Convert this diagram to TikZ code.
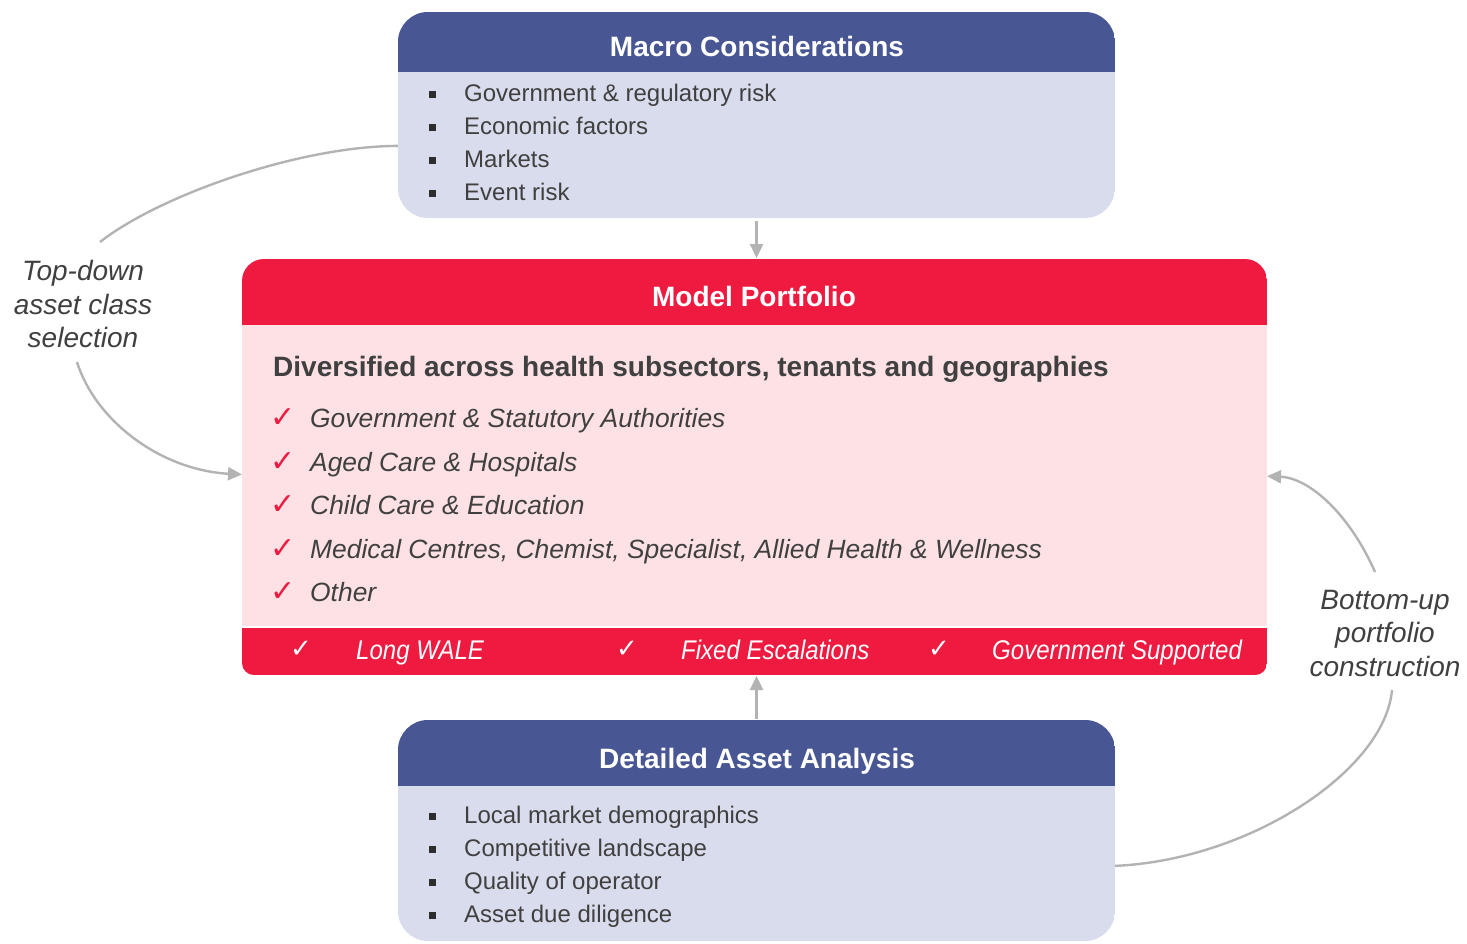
\documentclass[tikz,border=0pt]{standalone}
\usepackage{fontspec}
\usepackage{graphicx}
\setmainfont{Liberation Sans}
\newfontfamily\symfont{DejaVu Sans}
\usepackage{tikz}
\usetikzlibrary{positioning,arrows.meta,calc}
\definecolor{hdrblue}{HTML}{485693}
\definecolor{bodyblue}{HTML}{D9DCEC}
\definecolor{mpred}{HTML}{EE1A40}
\definecolor{mppink}{HTML}{FDE1E4}
\definecolor{txtgray}{HTML}{404040}
\definecolor{arrgray}{HTML}{B3B3B3}
\newcommand{\garrow}{-{Triangle[length=14pt,width=13pt]}}
\newcommand{\narrowtxt}[1]{\scalebox{0.89}[1]{#1}}

\begin{document}
\begin{tikzpicture}[x=1pt,y=-1pt,
    boxnode/.style={minimum width=717pt,inner sep=0,outer sep=0},
    hdr/.style={font=\fontsize{28}{34}\selectfont\bfseries,text=white,anchor=base,inner sep=0},
    item/.style={font=\fontsize{24}{33}\selectfont,text=txtgray,anchor=base west,inner sep=0},
    chk/.style={font=\fontsize{26.4}{32}\selectfont\itshape,text=txtgray,anchor=base west,inner sep=0},
    band/.style={font=\fontsize{27}{32}\selectfont\itshape,text=white,anchor=base west,inner sep=0},
    tick/.style={font=\fontsize{30}{34}\selectfont\symfont,inner sep=0},
    sq/.style={fill=txtgray!70!black,minimum size=7pt,inner sep=0},
    conn/.style={draw=arrgray,line width=2.4pt},
    side/.style={font=\fontsize{28}{33.5}\selectfont\itshape,text=txtgray,align=center}]
  \useasboundingbox (0,0) rectangle (1467,943);

  % the three boxes
  \node[boxnode,minimum height=206pt] (macro) at (756.5,115) {};
  \node[boxnode,minimum width=1025pt,minimum height=416pt] (mp) at (754.5,467) {};
  \node[boxnode,minimum height=221pt] (det) at (756.5,830.5) {};

  \begin{scope}
    \clip[rounded corners=30pt] (macro.north west) rectangle (macro.south east);
    \fill[bodyblue] (macro.north west) rectangle (macro.south east);
    \fill[hdrblue] (macro.north west) rectangle ($(macro.north east)+(0,60)$);
  \end{scope}
  \begin{scope}
    \clip[rounded corners=22pt] (mp.north west) rectangle ($(mp.south east)+(0,40)$);
    \clip[rounded corners=12pt] ($(mp.north west)+(0,-40)$) rectangle (mp.south east);
    \fill[mppink] (mp.north west) rectangle (mp.south east);
    \fill[mpred] (mp.north west) rectangle ($(mp.north east)+(0,66)$);
    \fill[mpred] ($(mp.south west)+(0,-48)$) rectangle (mp.south east);
    \draw[white,line width=1.5pt] ($(mp.south west)+(0,-48)$) -- ($(mp.south east)+(0,-48)$);
  \end{scope}
  \begin{scope}
    \clip[rounded corners=30pt] (det.north west) rectangle (det.south east);
    \fill[bodyblue] (det.north west) rectangle (det.south east);
    \fill[hdrblue] (det.north west) rectangle ($(det.north east)+(0,66)$);
  \end{scope}

  % titles
  \node[hdr] (macrotitle) at (757,56) {Macro Considerations};
  \node[hdr] (mptitle) at (754,306) {Model Portfolio};
  \node[hdr] (dettitle) at (757,768) {Detailed Asset Analysis};

  % macro list
  \foreach \t [count=\i] in {Government \& regulatory risk, Economic factors, Markets, Event risk} {
    \node[sq] (mb\i) at (432,61+33*\i) {};
    \node[item] (mi\i) at (464,68.5+33*\i) {\t};
  }

  % model portfolio
  \node[anchor=base west,inner sep=0,text=txtgray,font=\fontsize{28}{34}\selectfont\bfseries] (divers) at (273,376)
    {Diversified across health subsectors, tenants and geographies};
  \foreach \t [count=\i] in {Government \& Statutory Authorities, Aged Care \& Hospitals, Child Care \& Education,
      {Medical Centres, Chemist, Specialist, Allied Health \& Wellness}, Other} {
    \node[tick,text=mpred] (ck\i) at (283.5,374.4+43.6*\i) {✓};
    \node[chk] (ci\i) at (310,383.9+43.6*\i) {\t};
  }
  \foreach \cx/\tx/\t [count=\i] in {301/356/Long WALE, 627/681/Fixed Escalations, 939/992/Government Supported} {
    \node[tick,text=white,font=\fontsize{26}{30}\selectfont\symfont] (bk\i) at (\cx,649) {✓};
    \node[band] (bt\i) at (\tx,659.5) {\narrowtxt{\t}};
  }

  % detailed list
  \foreach \t [count=\i] in {Local market demographics, Competitive landscape, Quality of operator, Asset due diligence} {
    \node[sq] (db\i) at (432,783+33*\i) {};
    \node[item] (di\i) at (464,790.5+33*\i) {\t};
  }

  % side labels
  \node[side] (topdown) at (83,304) {Top-down\\asset class\\selection};
  \node[side] (bottomup) at (1385,633) {Bottom-up\\portfolio\\construction};

  % connectors
  \draw[conn,\garrow,shorten <=3pt,shorten >=1pt] (macro.south) -- (macro.south |- mp.north);
  \draw[conn,\garrow,shorten <=1pt,shorten >=1pt] (det.north) -- (det.north |- mp.south);

  \coordinate (tdin) at ($(macro.north west)!0.65!(macro.south west)$);
  \coordinate (tdout) at ($(mp.north west)!0.518!(mp.south west)$);
  \coordinate (tdtop) at (100,242);
  \coordinate (tdbot) at (77,362);
  \draw[conn] (tdin) .. controls (300,146) and (160,195) .. (tdtop);
  \draw[conn,\garrow] (tdbot) .. controls (95,420) and (160,470) .. (tdout);

  \coordinate (buin) at ($(det.north east)!0.66!(det.south east)$);
  \coordinate (buout) at ($(mp.north east)!0.522!(mp.south east)$);
  \coordinate (butop) at (1375,572);
  \coordinate (bubot) at (1392,690);
  \draw[conn] (buin) .. controls (1250,860) and (1385,770) .. (bubot);
  \draw[conn,\garrow] (butop) .. controls (1350,515) and (1310,478) .. (buout);
\end{tikzpicture}
\end{document}
